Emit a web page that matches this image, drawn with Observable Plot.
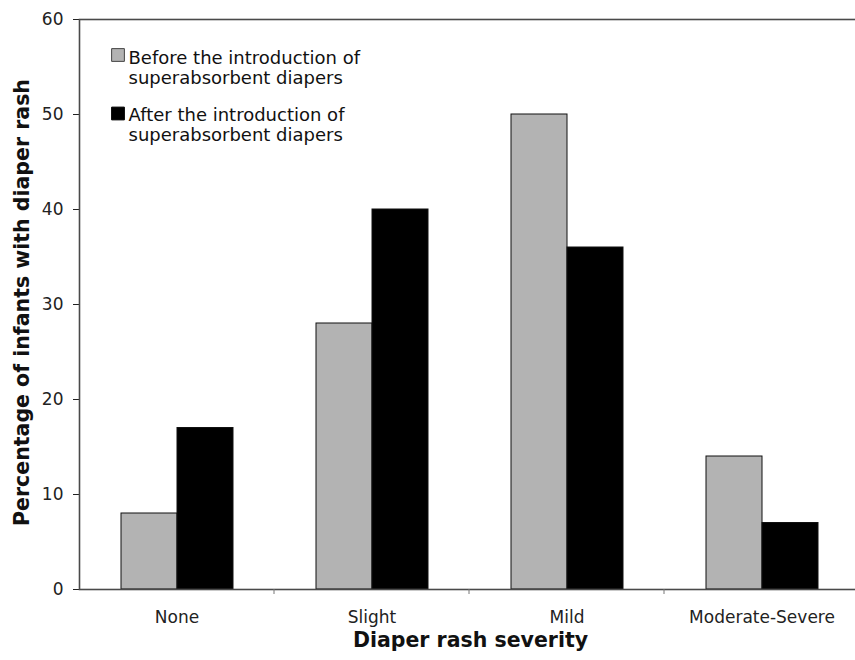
<!DOCTYPE html>
<html>
<head>
<meta charset="utf-8">
<script src="https://cdn.jsdelivr.net/npm/d3@7"></script>
<script src="https://cdn.jsdelivr.net/npm/@observablehq/plot@0.6"></script>
<style>
  html, body { margin: 0; padding: 0; background: #fff; overflow: hidden; }
  #chart svg { display: block; }
</style>
</head>
<body>
<div id="chart"></div>
<script>
// ---- data ----
const categories = ["None", "Slight", "Mild", "Moderate-Severe"];
const seriesKeys = ["Before", "After"];
const seriesLabels = [
  "Before the introduction of\nsuperabsorbent diapers",
  "After the introduction of\nsuperabsorbent diapers"
];
const beforeValues = [8, 28, 50, 14];
const afterValues = [17, 40, 36, 7];
const yTicks = [0, 10, 20, 30, 40, 50, 60];
const yTitle = "Percentage of infants with diaper rash";
const xTitle = "Diaper rash severity";

const rows = [];
categories.forEach((c, i) => {
  rows.push({category: c, series: seriesKeys[0], value: beforeValues[i]});
  rows.push({category: c, series: seriesKeys[1], value: afterValues[i]});
});
const seriesColors = ["#b3b3b3", "#000000"];

const plot = Plot.plot({
  width: 855,
  height: 660,
  marginLeft: 77,
  marginRight: 0,
  marginTop: 19,
  marginBottom: 71,
  style: {fontFamily: "DejaVu Sans, Verdana, sans-serif", fontSize: "17px", color: "#222", background: "#fff"},
  fx: {domain: categories, range: [77, 860], padding: 0,
       axis: "bottom", tickSize: 0, tickPadding: 21, label: null},
  x: {domain: seriesKeys, paddingInner: 0, paddingOuter: 0.732, axis: null},
  y: {domain: [0, 60], ticks: yTicks, tickSize: 6, tickPadding: 10, label: null},
  color: {domain: seriesKeys, range: seriesColors},
  marks: [
    Plot.barY(rows, {fx: "category", x: "series", y: "value", fill: "series", stroke: "#111", strokeWidth: 1}),
    Plot.frame({facet: "super", stroke: "#4a4a4a", strokeWidth: 1.6}),
    // legend swatches
    Plot.dot([seriesKeys[0]], {facet: "super", frameAnchor: "top-left", dx: 38.5, dy: 35.5, symbol: "square", r: 7.2, fill: seriesColors[0], stroke: "#444", strokeWidth: 1}),
    Plot.dot([seriesKeys[1]], {facet: "super", frameAnchor: "top-left", dx: 38.5, dy: 94, symbol: "square", r: 7.2, fill: seriesColors[1], stroke: "#000", strokeWidth: 1}),
    // legend labels
    Plot.text([seriesLabels[0]], {facet: "super", frameAnchor: "top-left", text: d => d, dx: 49, dy: 30, textAnchor: "start", lineAnchor: "top", lineHeight: 1.12, fontSize: 18, fill: "#111"}),
    Plot.text([seriesLabels[1]], {facet: "super", frameAnchor: "top-left", text: d => d, dx: 49, dy: 87, textAnchor: "start", lineAnchor: "top", lineHeight: 1.12, fontSize: 18, fill: "#111"}),
    // axis titles
    Plot.text([yTitle], {facet: "super", frameAnchor: "left", text: d => d, rotate: -90, textAnchor: "middle", dx: -57, dy: -2, fontWeight: "bold", fontSize: 20.5, fill: "#111"}),
    Plot.text([xTitle], {facet: "super", frameAnchor: "bottom", text: d => d, textAnchor: "middle", lineAnchor: "top", dx: 1, dy: 43, fontWeight: "bold", fontSize: 20.5, fill: "#111"})
  ]
});

// category boundary ticks on the x axis, from the facet scale
const fx = plot.scale("fx");
const svg = d3.select(plot.tagName.toLowerCase() === "svg" ? plot : plot.querySelector("svg"));
const y0 = plot.scale("y").apply(0);
for (let i = 1; i < categories.length; i++) {
  const xb = fx.apply(categories[i]);
  svg.append("line")
    .attr("x1", xb).attr("x2", xb)
    .attr("y1", y0).attr("y2", y0 + 5)
    .attr("stroke", "#777").attr("stroke-width", 1);
}

document.getElementById("chart").appendChild(plot);
</script>
</body>
</html>
